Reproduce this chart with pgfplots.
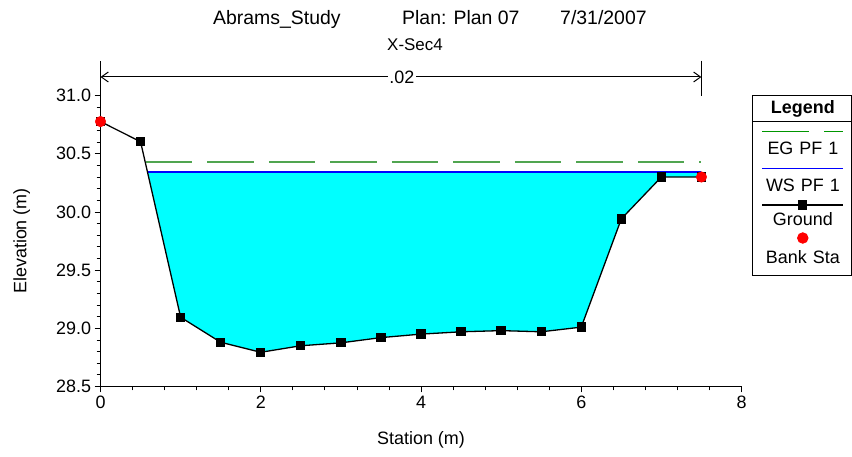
\documentclass[border=0pt]{standalone}
\usepackage{fontspec}
\setmainfont{Liberation Sans}
\usepackage{pgfplots}
\pgfplotsset{compat=1.18}
\usetikzlibrary{arrows.meta}
\definecolor{egreen}{RGB}{80,165,80}
\definecolor{lgreen}{RGB}{0,150,0}
\definecolor{water}{RGB}{0,255,255}
\definecolor{wsblue}{RGB}{0,0,255}
\definecolor{bankred}{RGB}{255,0,0}
\newcommand{\fs}{\fontsize{18}{20}\selectfont}
\begin{document}
\begin{tikzpicture}[x=1bp,y=1bp]
\useasboundingbox (0,0) rectangle (852,457);
\node[anchor=base west,inner sep=0pt,font=\fontsize{19.5}{22}\selectfont] at (213,432) {Abrams\_Study};
\node[anchor=base west,inner sep=0pt,font=\fontsize{19.5}{22}\selectfont] at (402,432) {Plan: Plan 07};
\node[anchor=base west,inner sep=0pt,font=\fontsize{19.5}{22}\selectfont] at (560,432) {7/31/2007};
\node[inner sep=0pt,font=\fontsize{17}{20}\selectfont] at (415,412) {X-Sec4};
\node[inner sep=0pt,rotate=90,font=\fs] at (21.7,216) {Elevation (m)};
\node[inner sep=0pt,font=\fs] at (421,17) {Station (m)};
\begin{axis}[
  at={(100.5bp,70.5bp)}, anchor=south west,
  scale only axis, width=641bp, height=325.9bp,
  xmin=0, xmax=8, ymin=28.5, ymax=31.3,
  clip=false,
  axis lines*=left,
  axis line style={black, line width=0.8bp},
  xtick={0,2,4,6,8}, minor x tick num=4,
  ytick={28.5,29,29.5,30,30.5,31},
  minor ytick={28.6,28.7,28.8,28.9,29.1,29.2,29.3,29.4,29.6,29.7,29.8,29.9,30.1,30.2,30.3,30.4,30.6,30.7,30.8,30.9},
  tick align=outside,
  major tick length=6bp, minor tick length=4bp,
  every tick/.style={black, line width=0.8bp},
  tick label style={font=\fs},
  /pgf/number format/assume math mode=true,
  yticklabel style={/pgf/number format/.cd, fixed, fixed zerofill, precision=1},
  legend style={at={(1.0168,0.8944)}, anchor=north west, draw=black, line width=0.8bp,
    inner sep=0pt, outer sep=0pt, column sep=0pt, row sep=0pt,
    nodes={inner sep=0pt, outer sep=0pt, text width=98bp, align=center, font=\fs}},
  legend cell align=center,
]
\addlegendimage{legend image code/.code={\draw[overlay,black,line width=0.8bp] (0,-13.35bp) -- (98bp,-13.35bp); \path (0,0);}}
\addlegendentry[text height=18.2bp, text depth=8.5bp]{\textbf{Legend}}

\addplot[fill=water, draw=none, forget plot] coordinates {
 (0.586,30.343) (1,29.095) (1.5,28.88) (2,28.794) (2.5,28.85) (3,28.875) (3.5,28.92)
 (4,28.95) (4.5,28.97) (5,28.98) (5.5,28.97) (6,29.01) (6.5,29.94) (7,30.30) (7.5,30.30) (7.5,30.343)} -- cycle;

\addplot[egreen, line width=1.3bp, dash pattern=on 46.5bp off 15bp,
  legend image code/.code={\draw[overlay,lgreen,line width=1.2bp,dash pattern=on 47bp off 15bp] (9.4bp,9.02bp) -- (90.4bp,9.02bp); \path (0,0);}]
  coordinates {(0.567,30.43) (7.5,30.43)};
\addlegendentry[text height=33.05bp, text depth=5bp]{EG PF 1}

\addplot[wsblue, line width=1.6bp,
  legend image code/.code={\draw[overlay,wsblue,line width=1.3bp] (9.4bp,9.8bp) -- (90.4bp,9.8bp); \path (0,0);}]
  coordinates {(0.586,30.343) (7.5,30.343)};
\addlegendentry[text height=31.7bp, text depth=5bp]{WS PF 1}

\addplot[black, line width=1.3bp, mark=square*, mark size=4bp, mark options={solid,fill=black},
  legend image code/.code={\draw[overlay,black,line width=1.3bp] (9.4bp,8.45bp) -- (90.4bp,8.45bp); \draw[overlay,black,fill=black] (45.5bp,4.45bp) rectangle (53.5bp,12.45bp); \path (0,0);}]
  coordinates {(0,30.776) (0.5,30.603) (1,29.095) (1.5,28.88) (2,28.794) (2.5,28.85) (3,28.875) (3.5,28.92)
 (4,28.95) (4.5,28.97) (5,28.98) (5.5,28.97) (6,29.01) (6.5,29.94) (7,30.30) (7.5,30.30)};
\addlegendentry[text height=29bp, text depth=5bp]{Ground}

\addplot[only marks, mark=*, mark size=5.3bp, mark options={draw=bankred, fill=bankred},
  legend image code/.code={\fill[overlay,bankred] (49.7bp,14.72bp) circle[radius=5.3bp]; \path (0,0);}]
  coordinates {(0,30.776) (7.5,30.30)};
\addlegendentry[text height=33bp, text depth=11.55bp]{Bank Sta}

\draw[black, line width=1bp, {Straight Barb[length=7bp,width=10bp]}-{Straight Barb[length=7bp,width=10bp]}]
  (axis cs:0,31.159) -- (axis cs:7.5,31.159);
\node[fill=white, inner sep=1.5bp, font=\fs] at (axis cs:3.76,31.159) {.02};
\draw[black, line width=1.4bp] (axis cs:7.5,31.3) -- (axis cs:7.5,30.995);
\end{axis}
\end{tikzpicture}
\end{document}
